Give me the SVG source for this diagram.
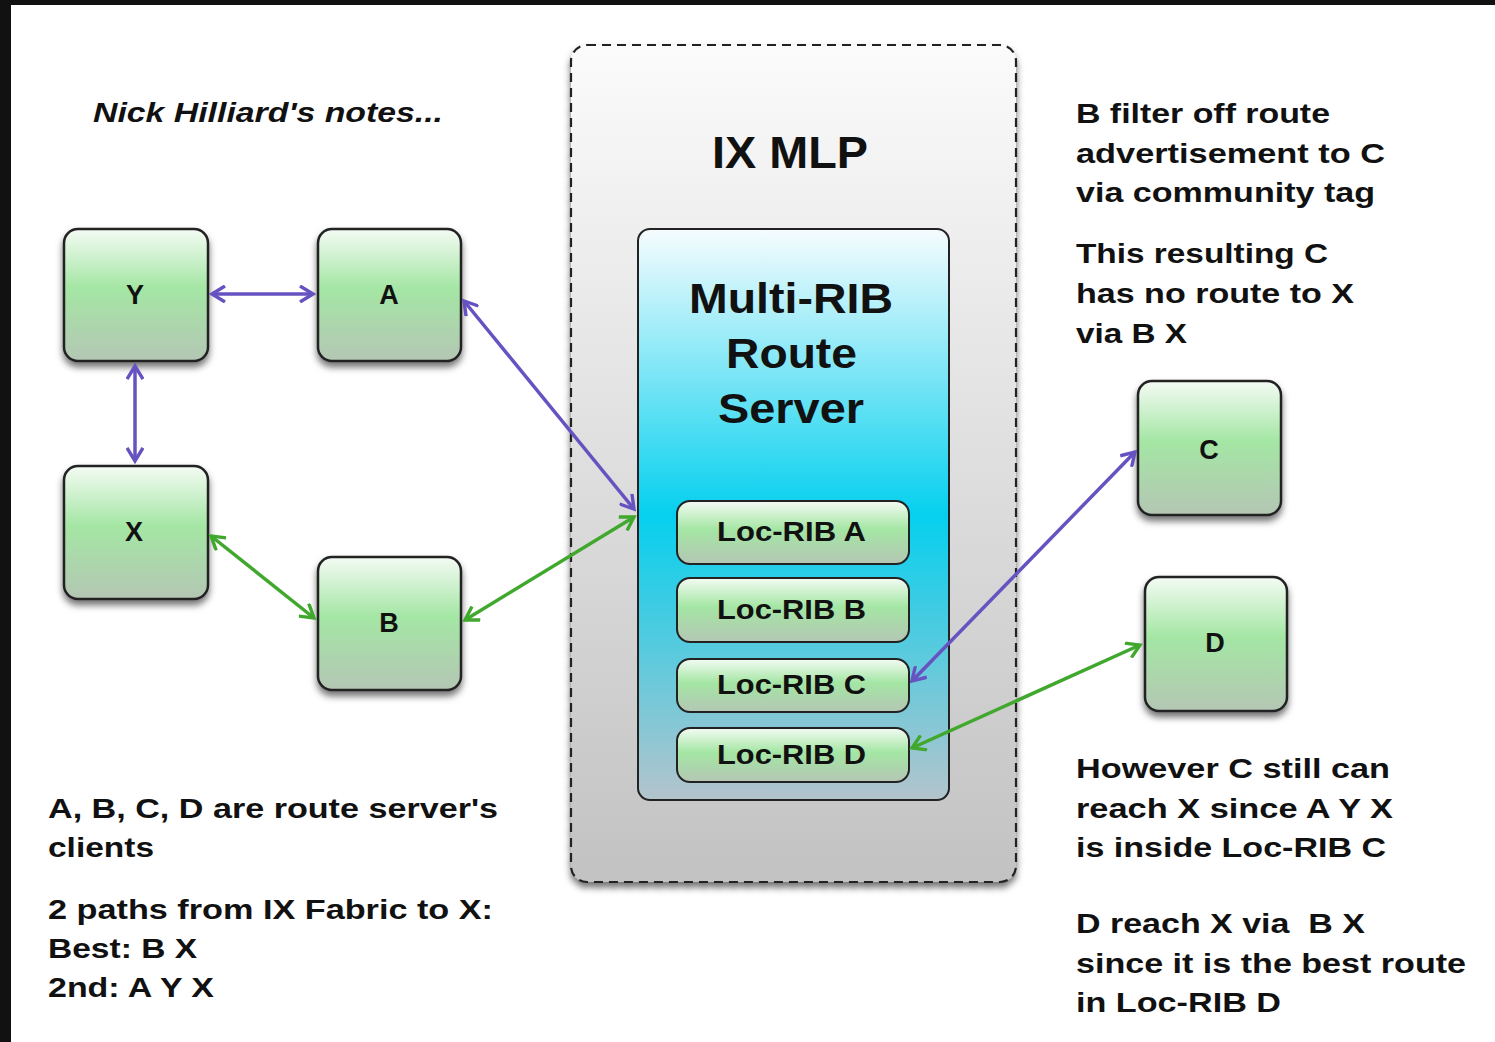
<svg xmlns="http://www.w3.org/2000/svg" width="1495" height="1042" viewBox="0 0 1495 1042">
<defs>
<style>
.t{font-family:"Liberation Sans",Arial,sans-serif;font-weight:bold;fill:#111;}
.note{font-size:28px;}
.node rect{stroke:#222;stroke-width:2.5;fill:url(#gGreen);filter:url(#sh);}
.node text{font-size:27px;text-anchor:middle;}
.loc rect{stroke:#222;stroke-width:2;fill:url(#gGreen);}
.loc text{font-size:28px;}
.pu{stroke:#6652c0;stroke-width:3.5;fill:none;marker-start:url(#mP);marker-end:url(#mP);}
.gr{stroke:#41a82e;stroke-width:3.5;fill:none;marker-start:url(#mG);marker-end:url(#mG);}
</style>
<linearGradient id="gGreen" x1="0" y1="0" x2="0" y2="1">
<stop offset="0" stop-color="#f4fbf4"/>
<stop offset="0.45" stop-color="#a4e6a4"/>
<stop offset="1" stop-color="#b4c6b4"/>
</linearGradient>
<linearGradient id="gOuter" x1="0" y1="0" x2="0" y2="1">
<stop offset="0" stop-color="#fbfbfb"/>
<stop offset="1" stop-color="#c2c2c2"/>
</linearGradient>
<linearGradient id="gBlue" x1="0" y1="0" x2="0" y2="1">
<stop offset="0" stop-color="#f6fcfe"/>
<stop offset="0.5" stop-color="#05d0ee"/>
<stop offset="1" stop-color="#b4c4cc"/>
</linearGradient>
<filter id="sh" x="-20%" y="-20%" width="140%" height="150%">
<feDropShadow dx="0" dy="5" stdDeviation="3.5" flood-color="#000" flood-opacity="0.55"/>
</filter>
<marker id="mP" viewBox="-15 -9 18 18" refX="0" refY="0" markerWidth="18" markerHeight="18" markerUnits="userSpaceOnUse" orient="auto-start-reverse">
<path d="M-13,-8 L0,0 L-13,8" fill="none" stroke="#6652c0" stroke-width="3.4"/>
</marker>
<marker id="mG" viewBox="-15 -9 18 18" refX="0" refY="0" markerWidth="18" markerHeight="18" markerUnits="userSpaceOnUse" orient="auto-start-reverse">
<path d="M-13,-8 L0,0 L-13,8" fill="none" stroke="#41a82e" stroke-width="3.4"/>
</marker>
</defs>
<rect x="0" y="0" width="1495" height="1042" fill="#ffffff"/>
<rect x="0" y="0" width="1495" height="5" fill="#111"/>
<rect x="0" y="0" width="11" height="1042" fill="#111"/>

<g id="ixmlp">
<rect x="571" y="45" width="445" height="837" rx="16" fill="url(#gOuter)" stroke="#222" stroke-width="2.2" stroke-dasharray="9,6" filter="url(#sh)"/>
<text class="t" x="712" y="168" font-size="44" textLength="156" lengthAdjust="spacingAndGlyphs">IX MLP</text>
</g>
<g id="routeserver">
<rect x="638" y="229" width="311" height="571" rx="12" fill="url(#gBlue)" stroke="#222" stroke-width="2"/>
<text class="t" font-size="42"><tspan x="689" y="313" textLength="204" lengthAdjust="spacingAndGlyphs">Multi-RIB</tspan></text>
<text class="t" font-size="42"><tspan x="726" y="368" textLength="131" lengthAdjust="spacingAndGlyphs">Route</tspan></text>
<text class="t" font-size="42"><tspan x="718" y="423" textLength="146" lengthAdjust="spacingAndGlyphs">Server</tspan></text>
</g>
<g id="locA" class="loc"><rect x="677" y="501" width="232" height="63" rx="13"/><text class="t" x="717" y="541" textLength="149" lengthAdjust="spacingAndGlyphs">Loc-RIB A</text></g>
<g id="locB" class="loc"><rect x="677" y="578" width="232" height="64" rx="13"/><text class="t" x="717" y="619" textLength="149" lengthAdjust="spacingAndGlyphs">Loc-RIB B</text></g>
<g id="locC" class="loc"><rect x="677" y="659" width="232" height="53" rx="13"/><text class="t" x="717" y="694" textLength="149" lengthAdjust="spacingAndGlyphs">Loc-RIB C</text></g>
<g id="locD" class="loc"><rect x="677" y="728" width="232" height="54" rx="13"/><text class="t" x="717" y="764" textLength="149" lengthAdjust="spacingAndGlyphs">Loc-RIB D</text></g>

<g id="nodeY" class="node"><rect x="64" y="229" width="144" height="132" rx="14"/><text class="t" x="135" y="304">Y</text></g>
<g id="nodeA" class="node"><rect x="318" y="229" width="143" height="132" rx="14"/><text class="t" x="389" y="304">A</text></g>
<g id="nodeX" class="node"><rect x="64" y="466" width="144" height="133" rx="14"/><text class="t" x="134" y="541">X</text></g>
<g id="nodeB" class="node"><rect x="318" y="557" width="143" height="133" rx="14"/><text class="t" x="389" y="632">B</text></g>
<g id="nodeC" class="node"><rect x="1138" y="381" width="143" height="134" rx="14"/><text class="t" x="1209" y="459">C</text></g>
<g id="nodeD" class="node"><rect x="1145" y="577" width="142" height="134" rx="14"/><text class="t" x="1215" y="652">D</text></g>

<g id="connectors">
<line class="pu" x1="212" y1="294" x2="313" y2="294"/>
<line class="pu" x1="135" y1="366" x2="135" y2="461"/>
<line class="pu" x1="464" y1="301" x2="634" y2="509"/>
<line class="gr" x1="211" y1="536" x2="314" y2="618"/>
<line class="gr" x1="465" y1="620" x2="634" y2="517"/>
<line class="pu" x1="1135" y1="452" x2="912" y2="681"/>
<line class="gr" x1="1140" y1="645" x2="912" y2="748"/>
</g>

<g id="notes">
<text class="t note" x="93" y="122" font-style="italic" textLength="350" lengthAdjust="spacingAndGlyphs">Nick Hilliard's notes...</text>
<text class="t note" x="1076" y="123" textLength="254" lengthAdjust="spacingAndGlyphs">B filter off route</text>
<text class="t note" x="1076" y="163" textLength="309" lengthAdjust="spacingAndGlyphs">advertisement to C</text>
<text class="t note" x="1076" y="202" textLength="299" lengthAdjust="spacingAndGlyphs">via community tag</text>
<text class="t note" x="1076" y="263" textLength="252" lengthAdjust="spacingAndGlyphs">This resulting C</text>
<text class="t note" x="1076" y="303" textLength="278" lengthAdjust="spacingAndGlyphs">has no route to X</text>
<text class="t note" x="1076" y="343" textLength="111" lengthAdjust="spacingAndGlyphs">via B X</text>
<text class="t note" x="1076" y="778" textLength="314" lengthAdjust="spacingAndGlyphs">However C still can</text>
<text class="t note" x="1076" y="818" textLength="317" lengthAdjust="spacingAndGlyphs">reach X since A Y X</text>
<text class="t note" x="1076" y="857" textLength="310" lengthAdjust="spacingAndGlyphs">is inside Loc-RIB C</text>
<text class="t note" x="1076" y="933" textLength="289" lengthAdjust="spacingAndGlyphs" xml:space="preserve">D reach X via  B X</text>
<text class="t note" x="1076" y="973" textLength="390" lengthAdjust="spacingAndGlyphs">since it is the best route</text>
<text class="t note" x="1076" y="1012" textLength="205" lengthAdjust="spacingAndGlyphs">in Loc-RIB D</text>
<text class="t note" x="48" y="818" textLength="450" lengthAdjust="spacingAndGlyphs">A, B, C, D are route server's</text>
<text class="t note" x="48" y="857" textLength="106" lengthAdjust="spacingAndGlyphs">clients</text>
<text class="t note" x="48" y="919" textLength="445" lengthAdjust="spacingAndGlyphs">2 paths from IX Fabric to X:</text>
<text class="t note" x="48" y="958" textLength="149" lengthAdjust="spacingAndGlyphs">Best: B X</text>
<text class="t note" x="48" y="997" textLength="166" lengthAdjust="spacingAndGlyphs">2nd: A Y X</text>
</g>
</svg>
